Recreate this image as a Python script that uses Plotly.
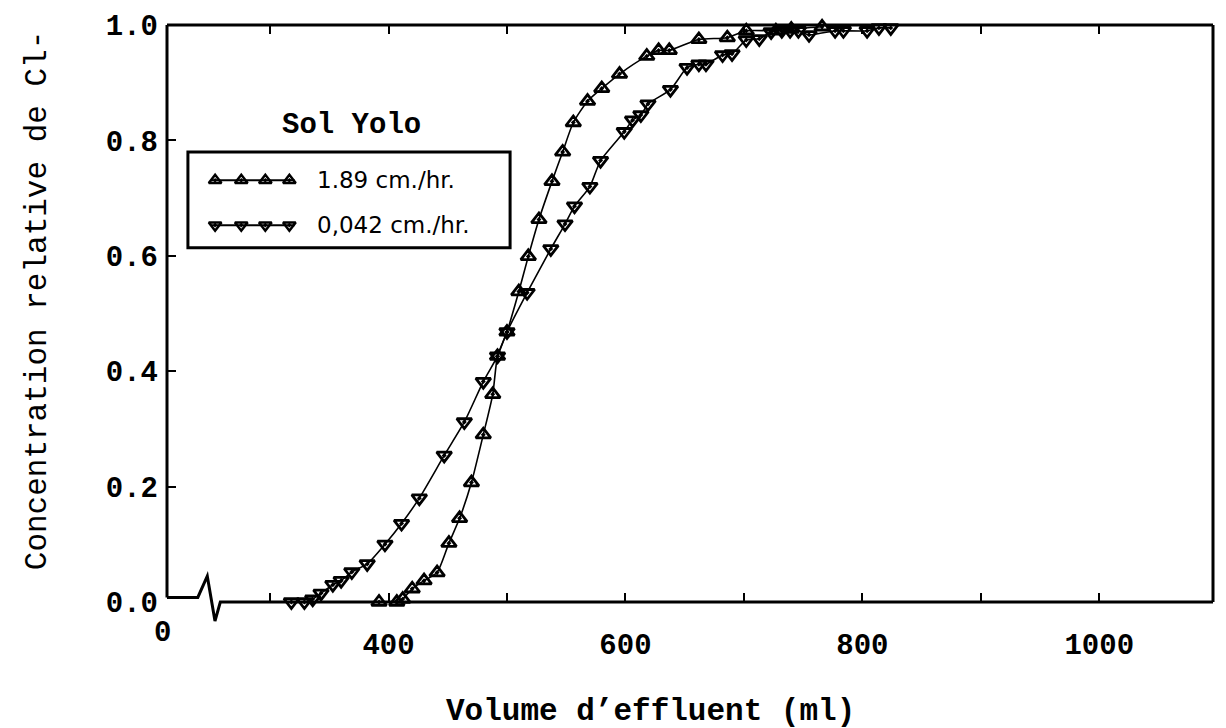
import plotly.graph_objects as go

# ---- data ----
fast_x = [392, 407, 412, 420, 430, 441, 451, 460, 470, 480, 488, 492, 500, 510, 518, 527,
          538, 547, 556, 568, 580, 595, 618, 628, 637, 662, 686, 702, 727, 740, 766]
fast_y = [0.0, 0.0, 0.005, 0.023, 0.037, 0.051, 0.102, 0.145, 0.207, 0.29, 0.36, 0.426,
          0.468, 0.538, 0.599, 0.663, 0.729, 0.78, 0.831, 0.868, 0.89, 0.915, 0.946, 0.956,
          0.956, 0.975, 0.978, 0.99, 0.99, 0.993, 0.997]

slow_x = [318, 329, 336, 343, 353, 360, 369, 382, 397, 411, 426, 447, 464, 480, 492, 500,
          517, 537, 549, 557, 570, 579, 599, 606, 613, 619, 638, 652, 662, 668, 682, 690,
          702, 713, 723, 732, 739, 746, 755, 777, 784, 804, 814, 824]
slow_y = [0.0, 0.0, 0.005, 0.015, 0.03, 0.037, 0.052, 0.066, 0.10, 0.136, 0.18, 0.254,
          0.312, 0.382, 0.426, 0.468, 0.536, 0.612, 0.655, 0.686, 0.72, 0.765, 0.815, 0.835,
          0.844, 0.863, 0.888, 0.926, 0.932, 0.932, 0.948, 0.95, 0.974, 0.976, 0.988, 0.99,
          0.99, 0.99, 0.983, 0.99, 0.99, 0.99, 0.995, 0.995]

x_tick_vals = [400, 600, 800, 1000]
x_tick_text = ["400", "600", "800", "1000"]
x_minor_vals = [300, 500, 700, 900]
y_tick_vals = [0.0, 0.2, 0.4, 0.6, 0.8, 1.0]
y_tick_text = ["0.0", "0.2", "0.4", "0.6", "0.8", "1.0"]
legend_labels = ["1.89 cm./hr.", "0,042 cm./hr."]
legend_title = "Sol Yolo"
x_title = "Volume d\u2019effluent (ml)"
y_title = "Concentration relative de Cl-"

# axis break: left edge of frame stands for 0
X_LEFT, X_RIGHT = 213, 1096

MONO = "Liberation Mono"
SANS = "DejaVu Sans"
INK = "black"

fig = go.Figure()

common_line = dict(color=INK, width=1.6, shape="spline", smoothing=0.6)
fig.add_trace(go.Scatter(
    x=fast_x, y=fast_y, mode="lines+markers", cliponaxis=False, showlegend=False,
    line=common_line,
    marker=dict(symbol="triangle-up-open-dot", size=13, color=INK, line=dict(width=2.8, color=INK)),
))
fig.add_trace(go.Scatter(
    x=slow_x, y=slow_y, mode="lines+markers", cliponaxis=False, showlegend=False,
    line=common_line,
    marker=dict(symbol="triangle-down-open-dot", size=13, color=INK, line=dict(width=2.8, color=INK)),
))

# legend samples on an overlay axis in [0,1] units
samp_x = [0.042, 0.122]
mark_x = [0.046, 0.071, 0.094, 0.117]
samp_rows = [0.731, 0.653]
symbols = ["triangle-up-open-dot", "triangle-down-open-dot"]
for row, sym in zip(samp_rows, symbols):
    fig.add_trace(go.Scatter(
        x=samp_x, y=[row, row], mode="lines", xaxis="x2", yaxis="y2",
        line=dict(color=INK, width=2), showlegend=False, hoverinfo="skip"))
    fig.add_trace(go.Scatter(
        x=mark_x, y=[row] * len(mark_x), mode="markers", xaxis="x2", yaxis="y2",
        marker=dict(symbol=sym, size=11, color=INK, line=dict(width=2.5, color=INK)),
        showlegend=False, hoverinfo="skip", cliponaxis=False))

shapes = [
    dict(type="line", xref="paper", yref="paper", x0=0, x1=1, y0=1, y1=1, line=dict(color=INK, width=3)),
    dict(type="line", xref="paper", yref="paper", x0=0, x1=0, y0=0.008, y1=1, line=dict(color=INK, width=3)),
    dict(type="line", xref="paper", yref="paper", x0=1, x1=1, y0=0, y1=1, line=dict(color=INK, width=3)),
    dict(type="path", xref="x", yref="paper",
         path=f"M {X_LEFT},0.008 L 239,0.008 L 247,0.045 L 253.5,-0.033 L 258,0 L {X_RIGHT},0",
         line=dict(color=INK, width=3)),
    dict(type="rect", xref="paper", yref="paper", x0=0.020, x1=0.328, y0=0.614, y1=0.780,
         line=dict(color=INK, width=3), fillcolor="rgba(0,0,0,0)"),
]

annotations = [
    dict(text=legend_title, xref="paper", yref="paper", x=0.176, y=0.825, showarrow=False,
         xanchor="center", yanchor="middle", font=dict(family=MONO, size=29, color=INK, weight="bold")),
    dict(text=legend_labels[0], xref="paper", yref="paper", x=0.1415, y=samp_rows[0], showarrow=False,
         xanchor="left", yanchor="middle", font=dict(family=SANS, size=23, color=INK)),
    dict(text=legend_labels[1], xref="paper", yref="paper", x=0.1415, y=samp_rows[1], showarrow=False,
         xanchor="left", yanchor="middle", font=dict(family=SANS, size=23, color=INK)),
    dict(text=x_title, xref="paper", yref="paper", x=0.4627, y=-0.1906, showarrow=False,
         xanchor="center", yanchor="middle", font=dict(family=MONO, size=31, color=INK, weight="bold")),
    dict(text=y_title, xref="paper", yref="paper", x=-0.1243, y=0.523, showarrow=False, textangle=-90,
         xanchor="center", yanchor="middle", font=dict(family=MONO, size=31, color=INK)),
    dict(text="0", xref="paper", yref="paper", x=-0.004, y=-0.055, showarrow=False,
         xanchor="center", yanchor="middle", font=dict(family=MONO, size=29, color=INK, weight="bold")),
]

fig.update_layout(
    width=1226, height=728,
    margin=dict(l=167, r=13, t=25, b=126),
    paper_bgcolor="white", plot_bgcolor="white",
    shapes=shapes, annotations=annotations,
    xaxis=dict(range=[X_LEFT, X_RIGHT], showgrid=False, zeroline=False, showline=False,
               tickvals=x_tick_vals, ticktext=x_tick_text, ticks="inside", ticklen=9, tickwidth=2,
               tickcolor=INK, mirror="ticks",
               minor=dict(tickvals=x_minor_vals, ticks="inside", ticklen=9, tickwidth=2, tickcolor=INK),
               tickfont=dict(family=MONO, size=29, color=INK, weight="bold"),
               ticklabelstandoff=22),
    yaxis=dict(range=[0, 1], showgrid=False, zeroline=False, showline=False,
               tickvals=y_tick_vals, ticktext=y_tick_text, ticks="inside", ticklen=9, tickwidth=2,
               tickcolor=INK,
               tickfont=dict(family=MONO, size=29, color=INK, weight="bold"),
               ticklabelstandoff=8),
    xaxis2=dict(range=[0, 1], overlaying="x", visible=False),
    yaxis2=dict(range=[0, 1], overlaying="y", visible=False),
)

fig.write_html("out.html")
